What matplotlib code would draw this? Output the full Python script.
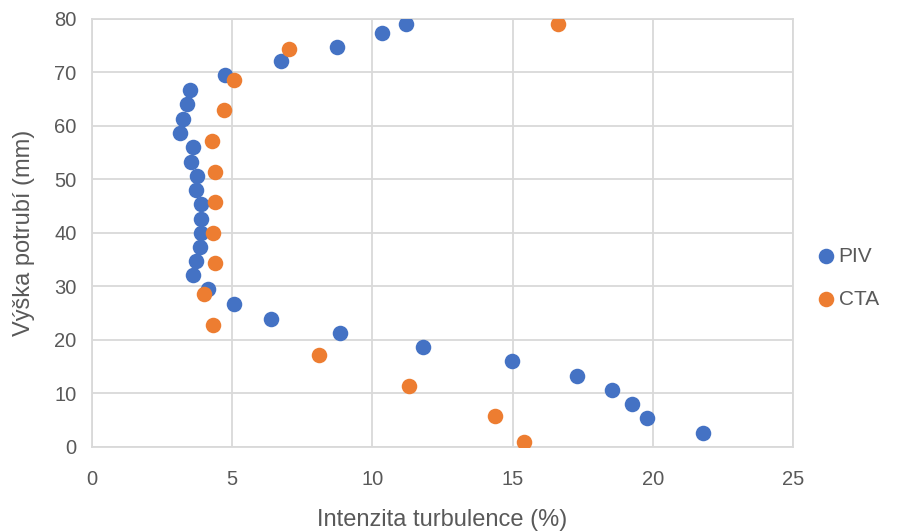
import matplotlib.pyplot as plt

## Data
piv_x = [11.19, 10.33, 8.74, 6.76, 4.76, 3.50, 3.38, 3.27, 3.15, 3.60, 3.54, 3.74, 3.72, 3.88, 3.88,
         3.88, 3.86, 3.72, 3.62, 4.13, 5.07, 6.39, 8.85, 11.82, 14.99, 17.31, 18.54, 19.24, 19.78, 21.79]
piv_y = [79.0, 77.4, 74.65, 72.0, 69.4, 66.7, 64.0, 61.3, 58.6, 56.0, 53.3, 50.65, 48.0, 45.4, 42.6,
         40.0, 37.3, 34.7, 32.0, 29.4, 26.7, 23.9, 21.3, 18.6, 15.96, 13.27, 10.6, 7.98, 5.3, 2.62]

cta_x = [16.62, 7.03, 5.07, 4.70, 4.29, 4.38, 4.39, 4.31, 4.38, 4.01, 4.33, 8.09, 11.31, 14.38, 15.41]
cta_y = [78.95, 74.3, 68.5, 62.9, 57.1, 51.4, 45.7, 40.0, 34.3, 28.6, 22.8, 17.1, 11.4, 5.68, 0.88]

x_ticks = [0, 5, 10, 15, 20, 25]
y_ticks = [0, 10, 20, 30, 40, 50, 60, 70, 80]

plt.rcParams['font.family'] = ['Liberation Sans', 'DejaVu Sans']

fig = plt.figure(figsize=(9.06, 5.31), dpi=100)
ax = fig.add_axes([0.1012, 0.1588, 0.7744, 0.806])

ax.scatter(piv_x, piv_y, s=125, color='#4472C4', label='PIV', zorder=3, linewidths=0)
ax.scatter(cta_x, cta_y, s=125, color='#ED7D31', label='CTA', zorder=3, linewidths=0)

ax.set_xlim(0, 25)
ax.set_ylim(0, 80)
ax.set_xticks(x_ticks)
ax.set_yticks(y_ticks)
ax.grid(True, color='#D9D9D9', linewidth=1.3, zorder=0)
ax.set_axisbelow(True)
for s in ax.spines.values():
    s.set_color('#D9D9D9')
    s.set_linewidth(1.3)
ax.tick_params(length=0, labelsize=14.5, colors='#595959')
ax.tick_params(axis='x', pad=17)
ax.tick_params(axis='y', pad=11)

ax.set_xlabel('Intenzita turbulence (%)', fontsize=17, color='#595959', labelpad=14)
ax.set_ylabel('Výška potrubí (mm)', fontsize=17, color='#595959', labelpad=14)

ax.legend(loc='center left', bbox_to_anchor=(1.02, 0.395), frameon=False, fontsize=15,
          labelcolor='#595959', handlelength=1.0, handletextpad=0.1, labelspacing=1.16,
          borderaxespad=0)

fig.savefig('out.png', dpi=100)
